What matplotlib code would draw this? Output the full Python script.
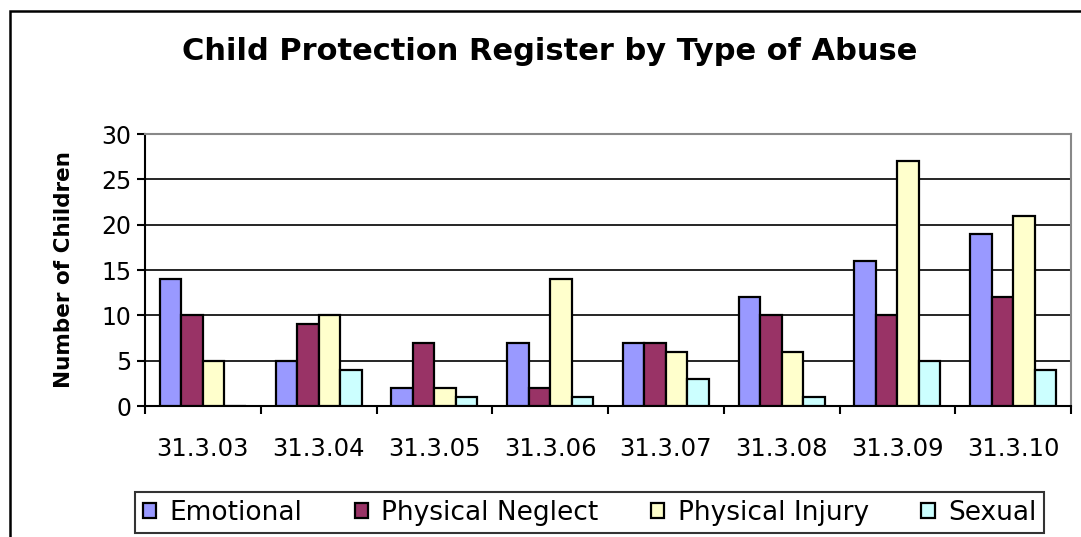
import matplotlib
matplotlib.use("Agg")
import matplotlib.pyplot as plt
import numpy as np
from matplotlib.patches import Rectangle

categories = ["31.3.03", "31.3.04", "31.3.05", "31.3.06", "31.3.07", "31.3.08", "31.3.09", "31.3.10"]
series_names = ["Emotional", "Physical Neglect", "Physical Injury", "Sexual"]
emotional = [14, 5, 2, 7, 7, 12, 16, 19]
physical_neglect = [10, 9, 7, 2, 7, 10, 10, 12]
physical_injury = [5, 10, 2, 14, 6, 6, 27, 21]
sexual = [0, 4, 1, 1, 3, 1, 5, 4]
colors = ["#9999FF", "#993366", "#FFFFCC", "#CCFFFF"]

plt.rcParams['font.family'] = ['DejaVu Sans']

fig = plt.figure(figsize=(10.81, 5.37), dpi=100)
ax = fig.add_axes([145/1081, 1-406/537, (1071-145)/1081, (406-134)/537])

# outer chart border
fig.patches.append(Rectangle((9.5/1081, -0.1), 1.2, 1 - 11/537 + 0.1, transform=fig.transFigure,
                             fill=False, edgecolor='black', linewidth=1.8))

x = np.arange(len(categories))
w = 0.186
data = [emotional, physical_neglect, physical_injury, sexual]
handles = []
for i, (vals, c, name) in enumerate(zip(data, colors, series_names)):
    h = ax.bar(x + (i - 1.5) * w, vals, width=w, color=c, edgecolor='black', linewidth=1.6,
               label=name, zorder=3)
    handles.append(h)

ax.set_xlim(-0.5, len(categories) - 0.5)
ax.set_ylim(0, 30)
ax.set_yticks(range(0, 31, 5))
ax.yaxis.grid(True, color='black', linewidth=1.2, zorder=0)
ax.set_axisbelow(True)

ax.set_xticks(x)
ax.set_xticklabels(categories, fontsize=17.5)
ax.set_xticks(np.arange(-0.5, len(categories), 1), minor=True)
ax.tick_params(axis='x', which='major', length=0, pad=22)
ax.tick_params(axis='x', which='minor', length=6, width=1.5, direction='out')
ax.tick_params(axis='y', labelsize=17, length=6, width=1.5, direction='out', pad=4)

for s in ['left', 'bottom']:
    ax.spines[s].set_linewidth(1.5)
    ax.spines[s].set_color('black')
for s in ['top', 'right']:
    ax.spines[s].set_linewidth(1.5)
    ax.spines[s].set_color('#888888')

ax.set_ylabel("Number of Children", fontsize=15.5, fontweight='bold')
ax.yaxis.set_label_coords((74-145)/926, 0.5)

fig.text(550/1081, 1 - 52/537, "Child Protection Register by Type of Abuse", ha='center', va='center',
         fontsize=22, fontweight='bold')

leg = fig.legend(handles=handles, labels=series_names, loc='center',
                 bbox_to_anchor=((133+1046)/2/1081, 1 - 512.5/537), ncol=4, fontsize=19,
                 frameon=True, fancybox=False, edgecolor='black', handlelength=0.5, handleheight=0.5,
                 columnspacing=2.0, handletextpad=0.5, borderpad=0.3)
leg.get_frame().set_linewidth(1.5)

fig.savefig("out.png", dpi=100)
